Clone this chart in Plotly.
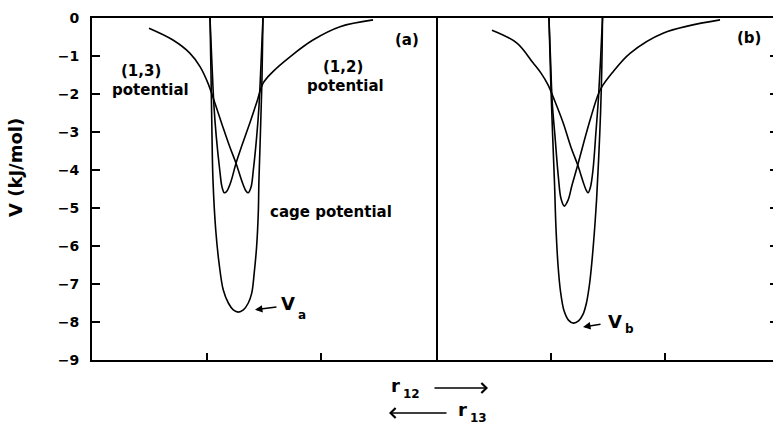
import plotly.graph_objects as go

# ---------------- data (x in arbitrary r units, each panel 0..3; V in kJ/mol) ----------------
# panel (a)
a13_x = [0.497, 0.706, 0.855, 0.942, 1.012, 1.073, 1.134, 1.203, 1.256, 1.308, 1.343, 1.363, 1.387, 1.407, 1.436, 1.456, 1.474, 1.491]
a13_y = [-0.27, -0.58, -0.93, -1.28, -1.72, -2.25, -2.80, -3.40, -3.82, -4.30, -4.55, -4.60, -4.45, -4.00, -3.13, -2.34, -1.20, 0.0]

a12_x = [1.029, 1.046, 1.064, 1.084, 1.114, 1.134, 1.154, 1.177, 1.212, 1.256, 1.308, 1.378, 1.439, 1.491, 1.578, 1.727, 1.927, 2.163, 2.451]
a12_y = [0.0, -1.20, -2.34, -3.13, -4.00, -4.45, -4.60, -4.55, -4.30, -3.82, -3.35, -2.75, -2.20, -1.72, -1.41, -1.02, -0.58, -0.23, -0.05]

ac_x = [1.029, 1.038, 1.046, 1.055, 1.079, 1.108, 1.145, 1.189, 1.232, 1.276, 1.320, 1.363, 1.393, 1.415, 1.436, 1.450, 1.456, 1.469, 1.483, 1.491]
ac_y = [0.0, -1.5, -3.0, -4.26, -5.58, -6.45, -7.16, -7.50, -7.68, -7.74, -7.68, -7.50, -7.24, -6.70, -6.00, -5.14, -4.26, -3.0, -1.5, 0.0]

# panel (b)
b13_x = [0.488, 0.706, 0.846, 0.916, 0.977, 1.038, 1.108, 1.177, 1.236, 1.282, 1.308, 1.326, 1.347, 1.369, 1.395, 1.417, 1.435, 1.452]
b13_y = [-0.32, -0.66, -1.18, -1.45, -1.76, -2.20, -2.75, -3.40, -3.87, -4.30, -4.52, -4.60, -4.45, -4.00, -3.00, -2.10, -1.10, 0.0]

b12_x = [0.985, 0.999, 1.014, 1.038, 1.067, 1.090, 1.119, 1.151, 1.186, 1.236, 1.291, 1.352, 1.404, 1.439, 1.535, 1.692, 1.980, 2.477]
b12_y = [0.0, -1.10, -2.24, -3.12, -4.18, -4.75, -4.95, -4.80, -4.40, -3.87, -3.25, -2.60, -2.10, -1.85, -1.45, -0.93, -0.40, -0.05]

bc_x = [0.985, 0.999, 1.016, 1.033, 1.046, 1.064, 1.086, 1.116, 1.155, 1.199, 1.243, 1.282, 1.312, 1.339, 1.360, 1.382, 1.400, 1.417, 1.435, 1.446, 1.452]
bc_y = [0.0, -1.5, -3.0, -4.3, -5.5, -6.5, -7.2, -7.7, -7.95, -8.03, -7.97, -7.8, -7.5, -7.0, -6.4, -5.6, -4.8, -3.8, -2.5, -1.3, 0.0]

y_ticks = [0, -1, -2, -3, -4, -5, -6, -7, -8, -9]
x_ticks = [1, 2]

# ---------------- figure ----------------
W, H = 773, 429
ml, mr, mt, mb = 92, 0, 18, 69
pw = W - ml - mr
ph = H - mt - mb
panel_px = 344
split = panel_px / pw
unit = panel_px / 3.0  # pixels per x unit

FONT = "DejaVu Sans"
fig = go.Figure()
line = dict(color="black", width=1.6, shape="spline", smoothing=1.0)

for xs, ys in [(a13_x, a13_y), (a12_x, a12_y), (ac_x, ac_y)]:
    fig.add_trace(go.Scatter(x=xs, y=ys, mode="lines", line=line, xaxis="x", yaxis="y",
                             showlegend=False, hoverinfo="skip"))
for xs, ys in [(b13_x, b13_y), (b12_x, b12_y), (bc_x, bc_y)]:
    fig.add_trace(go.Scatter(x=xs, y=ys, mode="lines", line=line, xaxis="x2", yaxis="y2",
                             showlegend=False, hoverinfo="skip"))

common_x = dict(tickvals=x_ticks, ticks="inside", ticklen=7, tickwidth=1.5, tickcolor="black",
                showticklabels=False, showline=True, linewidth=2, linecolor="black", mirror=True,
                showgrid=False, zeroline=False)

fig.update_layout(
    width=W, height=H,
    margin=dict(l=ml, r=mr, t=mt, b=mb),
    plot_bgcolor="white", paper_bgcolor="white",
    showlegend=False,
    font=dict(family=FONT, color="black", size=14, weight="bold"),
    xaxis=dict(domain=[0, split], range=[0, 3], anchor="y", **common_x),
    xaxis2=dict(domain=[split, 1], range=[0, 3 * (pw - panel_px) / panel_px], anchor="y2", **common_x),
    yaxis=dict(range=[-9, 0], tickvals=y_ticks, ticks="inside", ticklen=8, tickwidth=1.5, tickcolor="black",
               showline=True, linewidth=2, linecolor="black", mirror=True, showgrid=False, zeroline=False,
               tickfont=dict(family=FONT, size=14, color="black", weight="bold"), ticklabelstandoff=8, anchor="x"),
    yaxis2=dict(range=[-9, 0], tickvals=y_ticks, ticks="inside", ticklen=3, tickwidth=1.5, tickcolor="black",
                side="right", showticklabels=False, showline=False, showgrid=False, zeroline=False, anchor="x2"),
)


def txt(text, x, y, xref, yref, size=14, xanchor="center", yanchor="middle", angle=0, pad=1):
    fig.add_annotation(text=text, x=x, y=y, xref=xref, yref=yref, showarrow=False,
                       xanchor=xanchor, yanchor=yanchor, textangle=angle, borderpad=pad,
                       font=dict(family=FONT, size=size, color="black", weight="bold"))


def arrow(x, y, xref, yref, ax, ay, head, asize=1.0):
    fig.add_annotation(text="", x=x, y=y, xref=xref, yref=yref, showarrow=True,
                       ax=ax, ay=ay, arrowhead=head, arrowsize=asize, arrowwidth=1.5,
                       arrowcolor="black", standoff=0)


def px_x(px):
    return (px - ml) / pw


def px_y(py):
    return (mt + ph - py) / ph


def sym_sub(main, sub, xr, yr, xref, yref, dy_sub):
    # main letter right-aligned at xr, subscript left-aligned just after it
    txt(main, xr, yr, xref, yref, size=18, xanchor="right", pad=0)
    txt(sub, xr, yr, xref, yref, size=12, xanchor="left", pad=0)
    fig.layout.annotations[-1].yshift = -dy_sub
    fig.layout.annotations[-1].xshift = 1


# panel labels
txt("(a)", 2.747, -0.58, "x", "y", size=15)
txt("(b)", 2.73, -0.53, "x2", "y2", size=15)
txt("(1,3)", 0.427, -1.40, "x", "y", size=15)
txt("potential", 0.514, -1.89, "x", "y", size=15)
txt("(1,2)", 2.189, -1.29, "x", "y", size=15)
txt("potential", 2.215, -1.79, "x", "y", size=15)
txt("cage potential", 2.084, -5.10, "x", "y", size=15)

# V_a, V_b labels with arrows pointing at the minima
sym_sub("V", "a", (296 - 92) / unit, -(303 - mt) / 38.0, "x", "y", 12)
arrow(1.421, -7.68, "x", "y", ax=23, ay=-3, head=2)
sym_sub("V", "b", (623 - 436) / unit, -(321 - mt) / 38.0, "x2", "y2", 8)
arrow(1.282, -8.13, "x2", "y2", ax=19, ay=-3, head=2)

# axis title
txt("V (kJ/mol)", px_x(15), px_y(168), "paper", "paper", size=18, angle=-90)

# r12 / r13 labels with direction arrows
sym_sub("r", "12", px_x(401), px_y(385), "paper", "paper", 9)
arrow(px_x(488), px_y(388), "paper", "paper", ax=-55, ay=0, head=4, asize=1.3)
sym_sub("r", "13", px_x(468), px_y(409), "paper", "paper", 9)
arrow(px_x(389), px_y(413), "paper", "paper", ax=59, ay=0, head=4, asize=1.3)

fig.write_html("out.html")
